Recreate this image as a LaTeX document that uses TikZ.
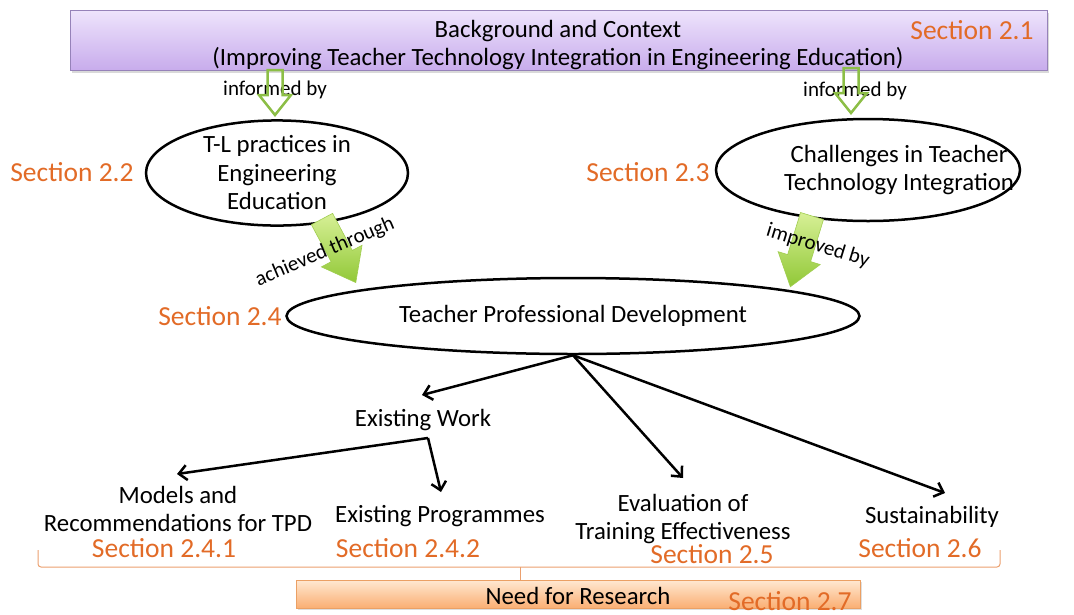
\documentclass[tikz,border=0pt]{standalone}
\usepackage{fontspec}
\setmainfont{Carlito}
\usetikzlibrary{shapes.geometric,arrows.meta,shadows}
\definecolor{secorange}{RGB}{226,107,39}
\definecolor{hollowgreen}{RGB}{140,190,70}
\definecolor{boxborder}{RGB}{150,130,185}
\newcommand\blockarr[5]{\path[#1] (-#3/2,0) -- (-#3/2,#2-#5) -- (-#4/2,#2-#5) -- (0,#2) -- (#4/2,#2-#5) -- (#3/2,#2-#5) -- (#3/2,0) -- cycle;}
\begin{document}
\begin{tikzpicture}[x=1pt,y=-1pt,
  txt/.style={font=\fontsize{24.8}{28.5}\selectfont, align=center, inner sep=0pt},
  sec/.style={font=\fontsize{27.5}{30}\selectfont, text=secorange, inner sep=0pt},
  lbl/.style={font=\fontsize{21}{24}\selectfont, inner sep=0pt},
  ell/.style={ellipse, draw, line width=2.5pt, inner sep=0pt, txt},
  conn/.style={line width=2.5pt, -{Straight Barb[length=8pt,width=15pt]}},
  hollow/.style={draw=hollowgreen, line width=2.5pt, line join=miter},
  solidgreen/.style={draw={rgb,255:red,160;green,205;blue,80}, line width=0.6pt, top color={rgb,255:red,215;green,240;blue,150}, bottom color={rgb,255:red,145;green,200;blue,55}}
]
\useasboundingbox (0,0) rectangle (1074,614);

% top box
\node[draw=boxborder, line width=1pt, minimum width=977pt, minimum height=60pt, inner sep=0pt,
  top color={rgb,255:red,238;green,228;blue,252}, bottom color={rgb,255:red,200;green,172;blue,236},
  drop shadow={opacity=0.3, shadow xshift=2pt, shadow yshift=-3pt}] (bg) at (558.5,40) {};
\node[txt] (bgt) at (558,45)
  {Background and Context\\(Improving Teacher Technology Integration in Engineering Education)};
\node[sec] (s21) at (972,30) {Section 2.1};

% informed by labels and hollow arrows
\node[lbl] (inf1) at (275,90) {informed by};
\node[lbl] (inf2) at (855,91) {informed by};
\blockarr{hollow, shift={(275,70)}}{45}{15}{32}{20}
\blockarr{hollow, shift={(851,68)}}{45}{15}{32}{20}

% ellipses
\node[ell, minimum width=262pt, minimum height=100pt] (tl) at (277,173) {T-L practices in\\Engineering\\Education};
\node[sec] (s22) at (72,172) {Section 2.2};
\node[ell, minimum width=304pt, minimum height=102pt] (ch) at (868,170) {};
\node[txt] (cht) at (899,170) {Challenges in Teacher\\Technology Integration};
\node[sec] (s23) at (648,172) {Section 2.3};

% green arrows
\blockarr{solidgreen, shift={(322,219)}, rotate=28}{72}{24}{46}{30}
\blockarr{solidgreen, shift={(812,216)}, rotate=-17}{74}{24}{44}{30}
\node[lbl, rotate=23] (ach) at (325,252) {achieved through};
\node[lbl, rotate=-17] (imp) at (818,246) {improved by};

% TPD
\node[ell, minimum width=573pt, minimum height=76pt] (tpd) at (573,316) {Teacher Professional Development};
\node[sec] (s24) at (220,316) {Section 2.4};

% lower texts
\node[txt] (ew) at (423,420) {Existing Work};
\node[txt] (mod) at (178,509) {Models and\\Recommendations for TPD};
\node[txt] (prog) at (440,516) {Existing Programmes};
\node[txt] (eval) at (683,519) {Evaluation of\\Training Effectiveness};
\node[txt] (sus) at (932,517) {Sustainability};

\node[sec] (s241) at (164,548) {Section 2.4.1};
\node[sec] (s242) at (408,548) {Section 2.4.2};
\node[sec] (s25) at (712,554) {Section 2.5};
\node[sec] (s26) at (920,548) {Section 2.6};

% connectors
\coordinate (ewt) at (422,395);
\coordinate (evt) at (683,478);
\coordinate (sut) at (945,493);
\coordinate (ewb) at (428,438);
\coordinate (modt) at (177,474);
\coordinate (prt) at (441,492);
\draw[conn] (tpd.south) -- (ewt);
\draw[conn] (tpd.south) -- (evt);
\draw[conn] (tpd.south) -- (sut);
\draw[conn] (ewb) -- (modt);
\draw[conn] (ewb) -- (prt);

% bracket
\draw[draw={rgb,255:red,235;green,160;blue,110}, line width=1pt, rounded corners=3pt]
  (38,550) -- (38,567) -- (1000,567) -- (1000,550);
\draw[draw={rgb,255:red,235;green,160;blue,110}, line width=1pt] (520,567) -- (520,580);

% bottom box
\node[draw={rgb,255:red,235;green,160;blue,100}, line width=1pt, minimum width=564pt, minimum height=28pt, inner sep=0pt,
  top color={rgb,255:red,255;green,232;blue,210}, bottom color={rgb,255:red,250;green,175;blue,115},
  drop shadow={opacity=0.25, shadow xshift=2pt, shadow yshift=-2pt}] (nr) at (578,594) {};
\node[txt] (nrt) at (578,596) {Need for Research};
\node[sec] (s27) at (790,601) {Section 2.7};
\end{tikzpicture}
\end{document}
